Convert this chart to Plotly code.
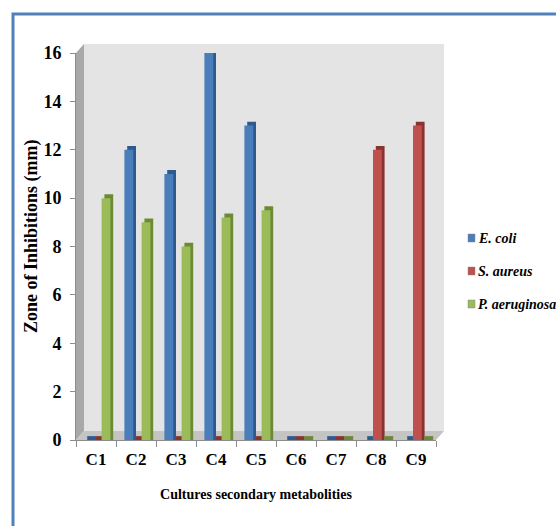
import plotly.graph_objects as go

# Zone of inhibition (mm) for each culture extract
cultures = ["C1", "C2", "C3", "C4", "C5", "C6", "C7", "C8", "C9"]
e_coli = [0, 12, 11, 16, 13, 0, 0, 0, 0]
s_aureus = [0, 0, 0, 0, 0, 0, 0, 12, 13]
p_aeruginosa = [10, 9, 8, 9.2, 9.5, 0, 0, 0, 0]
y_ticks = [0, 2, 4, 6, 8, 10, 12, 14, 16]

series = [
    ("E. coli", e_coli, "#4a7ebb", "#2d5b90"),
    ("S. aureus", s_aureus, "#c0504d", "#8a3432"),
    ("P. aeruginosa", p_aeruginosa, "#9bbb59", "#6c8a36"),
]

# plot area in pixels (figure 556 x 526)
W_FIG, H_FIG = 556, 526
L, R, T, B = 76, 436, 53, 440


def px(x):
    return (x - L) / (R - L)


def py(y):
    return (B - y) / (B - T)


def path(points):
    return "M " + " L ".join(f"{px(x):.4f},{py(y):.4f}" for x, y in points) + " Z"


SERIF = "Times New Roman, Liberation Serif, serif"
BAR_W = 0.22      # front face width (category units)
PITCH = 0.215     # spacing between series within a group
START = -0.29     # offset of the first series
DX, DY = 0.07, 0.16  # depth of the 3-D bar sides

fig = go.Figure()
for i, (name, vals, face, side) in enumerate(series):
    off = START + i * PITCH
    # darker side/top of the bar, set back and to the right
    fig.add_trace(go.Bar(
        x=cultures, y=[v + DY for v in vals], offset=off + DX, width=BAR_W,
        marker=dict(color=side, line=dict(width=0)),
        showlegend=False, hoverinfo="skip",
    ))
    # front face
    fig.add_trace(go.Bar(
        x=cultures, y=vals, offset=off, width=BAR_W, name=name,
        marker=dict(color=face, line=dict(width=0)), showlegend=False,
    ))

shapes = [
    # outer chart border
    dict(type="rect", xref="paper", yref="paper",
         x0=px(13), x1=px(600), y0=py(14), y1=py(600),
         line=dict(color="#4f81bd", width=3), fillcolor="rgba(0,0,0,0)", layer="below"),
    # back wall
    dict(type="rect", xref="paper", yref="paper",
         x0=px(84), x1=px(444), y0=py(431), y1=py(44),
         line=dict(width=0), fillcolor="#e4e4e4", layer="below"),
    # left wall
    dict(type="path", xref="paper", yref="paper",
         path=path([(76, 440), (76, 53), (84, 44), (84, 431)]),
         line=dict(width=0), fillcolor="#a8a8a8", layer="below"),
    # floor
    dict(type="path", xref="paper", yref="paper",
         path=path([(76, 440), (84, 431), (444, 431), (436, 440)]),
         line=dict(width=0), fillcolor="#c4c4c4", layer="below"),
]

annotations = []
# key: colour swatch + italic species name for each series
LEG_X, LEG_Y0, LEG_STEP = 468, 238, 33
for i, (name, _, face, _) in enumerate(series):
    yc = LEG_Y0 + i * LEG_STEP
    shapes.append(dict(type="rect", xref="paper", yref="paper",
                       x0=px(LEG_X), x1=px(LEG_X + 7), y0=py(yc + 4), y1=py(yc - 4),
                       line=dict(color="#8a8a8a", width=0.5), fillcolor=face))
    annotations.append(dict(xref="paper", yref="paper", x=px(LEG_X + 8), y=py(yc),
                            xanchor="left", yanchor="middle", showarrow=False,
                            text=f"<b><i>{name}</i></b>",
                            font=dict(family=SERIF, size=14, color="black")))

# y-axis title
annotations.append(dict(xref="paper", yref="paper", x=px(32), y=py(236),
                        xanchor="center", yanchor="middle", showarrow=False,
                        textangle=-90, text="<b>Zone of Inhibitions (mm)</b>",
                        font=dict(family=SERIF, size=18, color="black")))

fig.update_layout(
    width=W_FIG, height=H_FIG,
    margin=dict(l=L, r=W_FIG - R, t=T, b=H_FIG - B, pad=0),
    paper_bgcolor="white", plot_bgcolor="rgba(0,0,0,0)",
    barmode="overlay",
    shapes=shapes, annotations=annotations,
    font=dict(family=SERIF, color="black"),
    showlegend=False,
)
fig.update_xaxes(
    categoryorder="array", categoryarray=cultures,
    range=[-0.5, len(cultures) - 0.5],
    tickson="boundaries", ticks="outside", ticklen=6, tickcolor="#8c8c8c",
    showline=True, linecolor="#8c8c8c", linewidth=1,
    showgrid=False, zeroline=False, ticklabelstandoff=4,
    tickfont=dict(family=SERIF, size=17, weight="bold"),
    title=dict(text="Cultures secondary metabolities", standoff=20,
               font=dict(family=SERIF, size=14, weight="bold")),
)
fig.update_yaxes(
    range=[0, 16], tickvals=y_ticks, ticktext=[str(t) for t in y_ticks],
    ticks="outside", ticklen=5, tickcolor="#8c8c8c",
    showline=True, linecolor="#8c8c8c", linewidth=1,
    showgrid=False, zeroline=False, ticklabelstandoff=5,
    tickfont=dict(family=SERIF, size=18, weight="bold"),
)

fig.write_html("out.html")
